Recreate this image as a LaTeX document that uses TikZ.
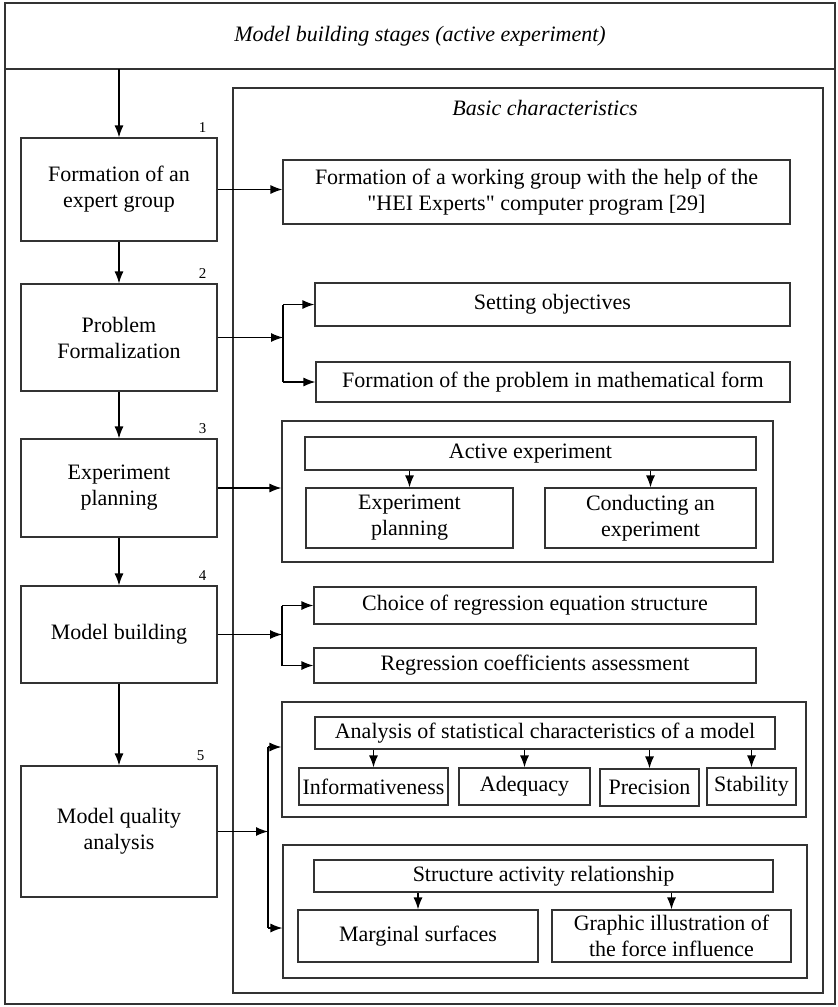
\documentclass[tikz,border=0pt]{standalone}
\usepackage{fontspec}
\setmainfont{Liberation Serif}
\usepackage{tikz}
\usetikzlibrary{arrows.meta,positioning}

\begin{document}
\begin{tikzpicture}[
x = 1pt, y = -1pt,
font = \fontsize{22}{26}\selectfont,
stagerect/.style={rectangle, align = center, draw = black!80, line width = 1.2pt, minimum width = 196pt, inner sep = 2pt},
charrect/.style={rectangle, align = center, draw = black!80, line width = 1.2pt, inner sep = 2pt},
grouprect/.style={rectangle, draw = black!80, line width = 1.2pt},
numlbl/.style={font = \fontsize{15}{18}\selectfont, inner sep = 1pt},
modarr/.style={-{Latex[length = 12pt, width = 9pt]}, line width = 1.2pt, draw = black},
modline/.style={line width = 1.2pt, draw = black}]

\useasboundingbox (0,0) rectangle (838,1007);

\node[grouprect, minimum width = 830pt, minimum height = 1001pt] (frame) at (420,503.5) {};
\node (title) at (420,36) {\textit{Model building stages (active experiment)}};
\coordinate (titlebase) at (420,69);
\draw[modline, draw = black!80] (frame.west |- titlebase) -- (frame.east |- titlebase);

\node[grouprect, minimum width = 590pt, minimum height = 905pt] (basic) at (528,540.5) {};
\node (basictitle) at (545,108) {\textit{Basic characteristics}};

\node[stagerect, minimum height = 103pt] (S1) at (119,189.5) {Formation of an\\expert group};
\node[stagerect, minimum height = 107pt] (S2) at (119,337.5) {Problem\\Formalization};
\node[stagerect, minimum height = 98pt]  (S3) at (119,488) {Experiment\\planning};
\node[stagerect, minimum height = 97pt]  (S4) at (119,634.5) {Model building};
\node[stagerect, minimum height = 131pt] (S5) at (119,831.5) {Model quality\\analysis};

\node[numlbl, above left = 4pt and 10pt of S1.north east] {1};
\node[numlbl, above left = 4pt and 10pt of S2.north east] {2};
\node[numlbl, above left = 4pt and 10pt of S3.north east] {3};
\node[numlbl, above left = 4pt and 10pt of S4.north east] {4};
\node[numlbl, above left = 4pt and 12pt of S5.north east] {5};

\node[charrect, minimum width = 507pt, minimum height = 64pt] (WG) at (536.5,192) {Formation of a working group with the help of the\\\textquotedbl HEI Experts\textquotedbl{} computer program [29]};

\node[charrect, minimum width = 475pt, minimum height = 43pt] (SO) at (552.5,304.5) {Setting objectives};
\node[charrect, minimum width = 474pt, minimum height = 40pt] (FP) at (553,382) {Formation of the problem in mathematical form};

\node[grouprect, minimum width = 491pt, minimum height = 141pt] (EG) at (527.5,491.5) {};
\node[charrect, minimum width = 451pt, minimum height = 33pt] (AE) at (530.5,453.5) {Active experiment};
\node[charrect, minimum width = 207pt, minimum height = 60pt] (EP) at (409.5,518) {Experiment\\planning};
\node[charrect, minimum width = 211pt, minimum height = 60pt] (CE) at (650.5,518) {Conducting an\\experiment};

\node[charrect, minimum width = 442pt, minimum height = 37pt] (CR) at (535,605.5) {Choice of regression equation structure};
\node[charrect, minimum width = 442pt, minimum height = 35pt] (RC) at (535,665.5) {Regression coefficients assessment};

\node[grouprect, minimum width = 524pt, minimum height = 115pt] (AO) at (544,759.5) {};
\node[charrect, minimum width = 460pt, minimum height = 32pt] (AS) at (545,733) {Analysis of statistical characteristics of a model};
\node[charrect, minimum width = 149pt, minimum height = 37pt] (IN) at (373.5,786.5) {Informativeness};
\node[charrect, minimum width = 131pt, minimum height = 37pt] (AD) at (524.5,786.5) {Adequacy};
\node[charrect, minimum width = 99pt, minimum height = 37pt]  (PR) at (649.5,787.5) {Precision};
\node[charrect, minimum width = 89pt, minimum height = 37pt]  (ST) at (751.5,786.5) {Stability};

\node[grouprect, minimum width = 524pt, minimum height = 133pt] (SG) at (545,911.5) {};
\node[charrect, minimum width = 459pt, minimum height = 32pt] (SA) at (543.5,876) {Structure activity relationship};
\node[charrect, minimum width = 240pt, minimum height = 52pt] (MS) at (418,936) {Marginal surfaces};
\node[charrect, minimum width = 239pt, minimum height = 52pt] (GI) at (671.5,936) {Graphic illustration of\\the force influence};

\coordinate (entry) at (119,69);
\draw[modarr] (entry) -- (S1);
\draw[modarr] (S1) -- (S2);
\draw[modarr] (S2) -- (S3);
\draw[modarr] (S3) -- (S4);
\draw[modarr] (S4) -- (S5);

\draw[modarr] (S1.east) -- (S1.east -| WG.west);

\coordinate (br2) at (283,337.5);
\draw[modarr] (S2.east) -- (br2);
\draw[modline] (br2 |- SO.west) -- (br2 |- FP.west);
\draw[modarr] (br2 |- SO.west) -- (SO.west);
\draw[modarr] (br2 |- FP.west) -- (FP.west);

\draw[modarr] (S3.east) -- (S3.east -| EG.west);
\draw[modarr] (EP.north |- AE.south) -- (EP.north);
\draw[modarr] (CE.north |- AE.south) -- (CE.north);

\coordinate (br4) at (282,634.5);
\draw[modarr] (S4.east) -- (br4);
\draw[modline] (br4 |- CR.west) -- (br4 |- RC.west);
\draw[modarr] (br4 |- CR.west) -- (CR.west);
\draw[modarr] (br4 |- RC.west) -- (RC.west);

\coordinate (br5) at (268,831.5);
\coordinate (br5a) at (268,747);
\coordinate (br5b) at (268,928);
\draw[modarr] (S5.east) -- (br5);
\draw[modline] (br5a) -- (br5b);
\draw[modarr] (br5a) -- (br5a -| AO.west);
\draw[modarr] (br5b) -- (br5b -| SG.west);
\draw[modarr] (AS.south -| IN.north) -- (IN.north);
\draw[modarr] (AS.south -| AD.north) -- (AD.north);
\draw[modarr] (AS.south -| PR.north) -- (PR.north);
\draw[modarr] (AS.south -| ST.north) -- (ST.north);
\draw[modarr] (SA.south -| MS.north) -- (MS.north);
\draw[modarr] (SA.south -| GI.north) -- (GI.north);

\end{tikzpicture}
\end{document}
